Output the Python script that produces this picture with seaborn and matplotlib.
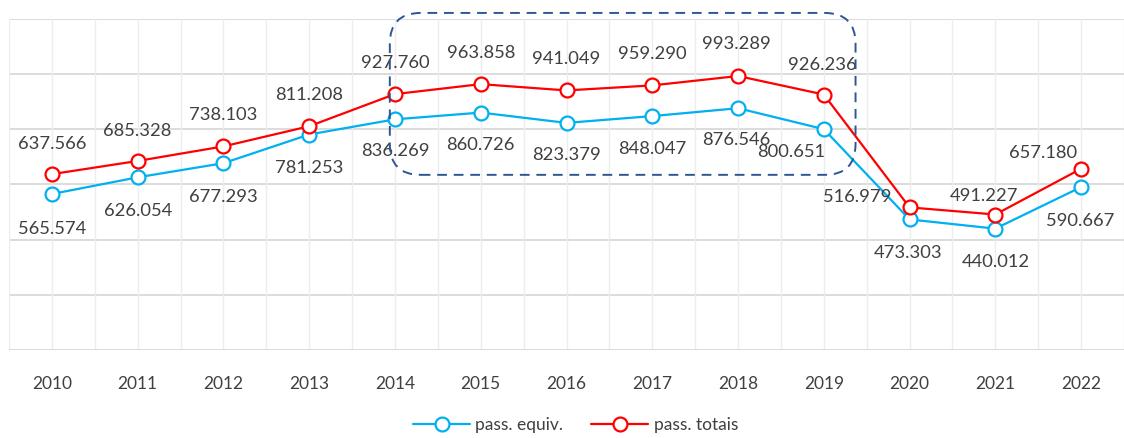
import matplotlib
matplotlib.use("Agg")
import matplotlib.pyplot as plt
from matplotlib.lines import Line2D
from matplotlib.patches import FancyBboxPatch
import seaborn as sns
import pandas as pd

# data
years = ["2010", "2011", "2012", "2013", "2014", "2015", "2016",
         "2017", "2018", "2019", "2020", "2021", "2022"]
pass_equiv = [565.574, 626.054, 677.293, 781.253, 836.269, 860.726, 823.379,
              848.047, 876.546, 800.651, 473.303, 440.012, 590.667]
pass_totais = [637.566, 685.328, 738.103, 811.208, 927.760, 963.858, 941.049,
               959.290, 993.289, 926.236, 516.979, 491.227, 657.180]

# label offsets in pixels (dx, dy)
off_totais = [(0, 30), (0, 30), (0, 31), (0, 31), (0, 31), (0, 31), (0, 31),
              (0, 31), (-2, 32), (-1, 30), (-52, 10), (-11, 19), (-38, 16)]
off_equiv = [(0, -35), (0, -34), (0, -34), (0, -33), (0, -32), (0, -32), (0, -32),
             (0, -33), (-2, -32), (-33, -23), (-1, -34), (0, -33), (-1, -34)]

cyan = "#00B0F0"
red = "#FF0000"
txt = "#404040"

sns.set_style("white")
plt.rcParams["font.family"] = ["Lato", "DejaVu Sans"]

df = pd.DataFrame({
    "idx": list(range(len(years))) * 2,
    "valor": pass_equiv + pass_totais,
    "serie": ["pass. equiv."] * len(years) + ["pass. totais"] * len(years),
})

fig = plt.figure(figsize=(11.24, 4.38), dpi=100)
ax = fig.add_axes([9 / 1124, 1 - 350 / 438, 1 - 9 / 1124, (350 - 19) / 438])

# grid
for y in range(200, 1400, 200):
    ax.axhline(y, color="#D9D9D9", lw=1.3, zorder=0)
for i in range(len(years) * 2 + 1):
    ax.axvline(-0.5 + i * 0.5, color="#EDEDED", lw=1.0, zorder=0)
ax.axhline(0, color="#D0D0D0", lw=1.8, zorder=1)

sns.lineplot(data=df, x="idx", y="valor", hue="serie",
             palette={"pass. equiv.": cyan, "pass. totais": red},
             marker="o", markersize=10, markerfacecolor="white",
             markeredgewidth=1.6, linewidth=1.6, legend=False, ax=ax, zorder=3)
for ln, c in zip(ax.get_lines()[-2:], [cyan, red]):
    ln.set_markeredgecolor(c)

for i, (v, o) in enumerate(zip(pass_totais, off_totais)):
    ax.annotate(f"{v:.3f}", (i, v), xytext=o, textcoords="offset pixels",
                ha="center", va="center", fontsize=13.2, color=txt, zorder=4)
for i, (v, o) in enumerate(zip(pass_equiv, off_equiv)):
    ax.annotate(f"{v:.3f}", (i, v), xytext=o, textcoords="offset pixels",
                ha="center", va="center", fontsize=13.2, color=txt, zorder=4)

ax.set_xlim(-0.5, 12.5)
ax.set_ylim(0, 1200)
ax.set_xticks(range(len(years)))
ax.set_xticklabels(years, fontsize=12.5, color=txt)
ax.tick_params(axis="x", length=0, pad=19)
ax.set_yticks([])
ax.set_xlabel("")
ax.set_ylabel("")
for s in ax.spines.values():
    s.set_visible(False)

# dashed rounded box around 2014-2019
ppx = 1115 / 13.0
ppy = 331 / 1200.0
box = FancyBboxPatch((3.94, 635), 9.37 - 3.94, 1222 - 635,
                     boxstyle="round,pad=0,rounding_size=0.36",
                     mutation_aspect=ppx / ppy,
                     fill=False, edgecolor="#2F5597", lw=1.4,
                     linestyle=(0, (5, 3.5)), clip_on=False, zorder=5)
ax.add_patch(box)

handles = [Line2D([], [], color=cyan, marker="o", markersize=10, markerfacecolor="white",
                  markeredgecolor=cyan, markeredgewidth=1.6, lw=1.6),
           Line2D([], [], color=red, marker="o", markersize=10, markerfacecolor="white",
                  markeredgecolor=red, markeredgewidth=1.6, lw=1.6)]
fig.legend(handles, ["pass. equiv.", "pass. totais"], loc="center",
           bbox_to_anchor=(0.512, 1 - 425 / 438), ncol=2, frameon=False,
           fontsize=12.5, labelcolor=txt, handlelength=3.3, columnspacing=1.6,
           handletextpad=0.3)

fig.savefig("out.png", dpi=100)
